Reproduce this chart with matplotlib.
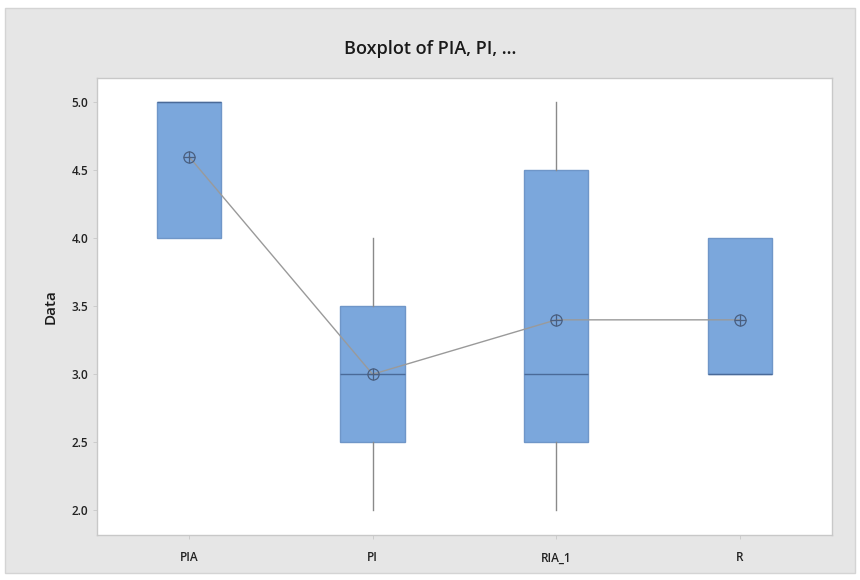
import matplotlib.pyplot as plt
from matplotlib.patches import Rectangle

plt.rcParams['font.family'] = ['Open Sans', 'DejaVu Sans']

# Boxplot data
labels = ['PIA', 'PI', 'RIA_1', 'R']
q1 = [4.0, 2.5, 2.5, 3.0]
medians = [5.0, 3.0, 3.0, 3.0]
q3 = [5.0, 3.5, 4.5, 4.0]
whislo = [4.0, 2.0, 2.0, 3.0]
whishi = [5.0, 4.0, 5.0, 4.0]
means = [4.6, 3.0, 3.4, 3.4]

positions = list(range(1, len(labels) + 1))
stats = []
for i in range(len(labels)):
    stats.append({'label': labels[i], 'q1': q1[i], 'med': medians[i], 'q3': q3[i],
                  'whislo': whislo[i], 'whishi': whishi[i], 'fliers': []})

fig = plt.figure(figsize=(8.6, 5.8), dpi=100)
fig.patch.set_facecolor('white')
# grey panel behind the plot
panel = Rectangle((0.006, 0.012), 0.988, 0.974, transform=fig.transFigure,
                  facecolor='#e6e6e6', edgecolor='#d4d4d4', lw=1, zorder=-10)
fig.add_artist(panel)

ax = fig.add_axes([0.113, 0.078, 0.854, 0.788])
ax.set_zorder(1)
ax.set_facecolor('white')

box_color = '#7ba7dc'
ax.bxp(stats, positions=positions, widths=0.35, patch_artist=True, showcaps=False,
       boxprops=dict(facecolor=box_color, edgecolor='#6f96c8', linewidth=1),
       medianprops=dict(color='#4a6a98', linewidth=1),
       whiskerprops=dict(color='#8a8a8a', linewidth=1))

# mean symbols and connect line
ax.plot(positions, means, color='#9a9a9a', linewidth=1, zorder=3)
ax.plot(positions, means, linestyle='none', marker='o', markersize=8,
        markerfacecolor='none', markeredgecolor='#4a5f80', markeredgewidth=0.9, zorder=4)
ax.plot(positions, means, linestyle='none', marker='+', markersize=8,
        markeredgecolor='#4a5f80', markeredgewidth=0.9, zorder=4)

ax.set_xlim(0.5, 4.5)
ax.set_ylim(1.82, 5.18)
ax.set_yticks([2.0, 2.5, 3.0, 3.5, 4.0, 4.5, 5.0])
ax.set_yticklabels(['2.0', '2.5', '3.0', '3.5', '4.0', '4.5', '5.0'])
ax.set_xticks(positions)
ax.set_xticklabels(labels)
ax.tick_params(axis='both', labelsize=8.5, colors='#222222', length=3, width=0.6)
ax.tick_params(axis='x', pad=9)
ax.tick_params(axis='both', color='#c8c8c8')
for lab in ax.get_xticklabels() + ax.get_yticklabels():
    lab.set_fontweight('semibold')
for s in ax.spines.values():
    s.set_color('#c8c8c8')
    s.set_linewidth(1)

ax.set_ylabel('Data', fontsize=11, color='#1a1a1a', labelpad=10, fontweight='semibold')
fig.text(0.5, 0.915, 'Boxplot of PIA, PI, ...', ha='center', va='center',
         fontsize=13, color='#1a1a1a', fontweight='semibold')

plt.savefig('out.png', dpi=100)
